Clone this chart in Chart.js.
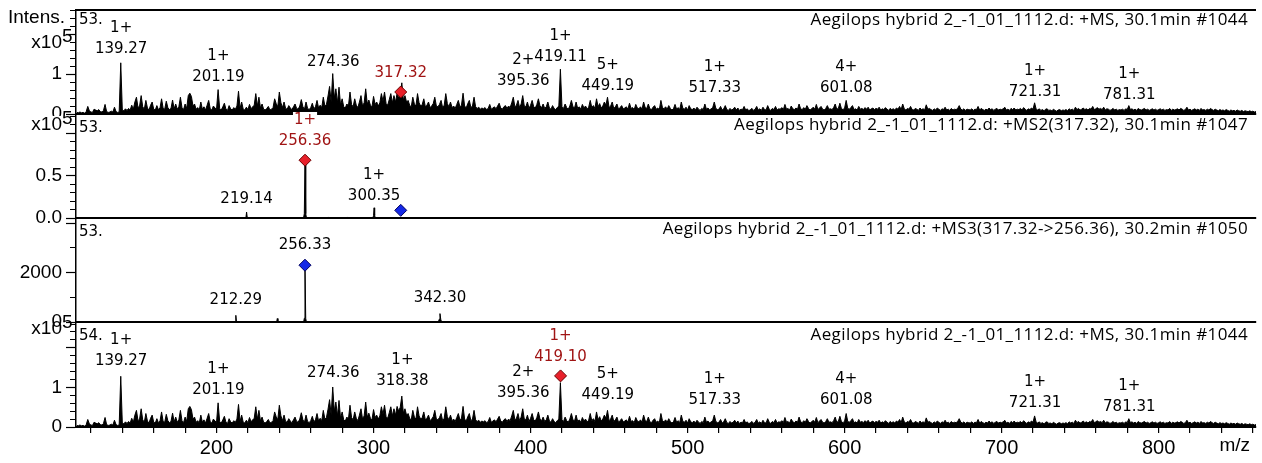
<!DOCTYPE html>
<html><head><meta charset="utf-8">
<script src="https://cdn.jsdelivr.net/npm/chart.js@4.4.1/dist/chart.umd.min.js"></script>
<style>
html,body{margin:0;padding:0;background:#fff;}
#wrap{position:relative;width:1262px;height:463px;overflow:hidden;background:#fff;}
canvas{position:absolute;left:0;}
</style></head><body>
<div id="wrap">
<canvas id="p1" width="1262" height="116" style="top:0px"></canvas>
<canvas id="p2" width="1262" height="130" style="top:100px"></canvas>
<canvas id="p3" width="1262" height="120" style="top:208px"></canvas>
<canvas id="p4" width="1262" height="155" style="top:308px"></canvas>
</div>
<script>
// ---------------- DATA ----------------
const mzMin = 110.5, mzMax = 862;
const tickLabelsX = [200, 300, 400, 500, 600, 700, 800];
const p3TickValues = [0, 1000, 2000, 3000, 4000];

// +MS full scan #1044 (intensity x10^5), one value per m/z starting at 111
const ms1Start = 111;
const ms1Int = [
0.04,0.03,0.05,0.03,0.04,0.02,0.06,0.19,0.08,0.05,
0.04,0.12,0.10,0.08,0.11,0.06,0.05,0.09,0.24,0.06,
0.04,0.05,0.07,0.05,0.17,0.06,0.04,0.05,1.28,0.10,
0.08,0.13,0.09,0.14,0.10,0.22,0.12,0.30,0.42,0.16,
0.20,0.46,0.18,0.12,0.34,0.15,0.10,0.22,0.30,0.12,
0.10,0.21,0.11,0.15,0.38,0.14,0.12,0.32,0.16,0.11,
0.14,0.35,0.13,0.25,0.12,0.18,0.42,0.16,0.11,0.25,
0.14,0.46,0.52,0.44,0.20,0.25,0.12,0.16,0.10,0.30,
0.12,0.18,0.10,0.22,0.34,0.13,0.10,0.20,0.15,0.12,
0.61,0.14,0.10,0.18,0.27,0.12,0.09,0.21,0.13,0.10,
0.16,0.12,0.20,0.57,0.14,0.30,0.12,0.10,0.17,0.11,
0.24,0.13,0.18,0.22,0.51,0.20,0.42,0.15,0.25,0.12,
0.10,0.14,0.19,0.10,0.12,0.16,0.38,0.26,0.18,0.55,
0.28,0.16,0.30,0.14,0.12,0.21,0.15,0.11,0.18,0.25,
0.14,0.12,0.20,0.36,0.18,0.12,0.30,0.14,0.11,0.16,
0.27,0.13,0.18,0.34,0.15,0.22,0.16,0.42,0.20,0.24,
0.45,0.69,0.30,1.01,0.40,0.63,0.28,0.67,0.22,0.38,
0.18,0.15,0.25,0.20,0.55,0.24,0.18,0.38,0.22,0.16,
0.30,0.46,0.20,0.28,0.63,0.25,0.35,0.22,0.18,0.44,
0.24,0.30,0.20,0.28,0.51,0.32,0.55,0.26,0.22,0.36,
0.51,0.28,0.46,0.30,0.52,0.40,0.50,0.78,0.35,0.46,
0.30,0.34,0.22,0.18,0.42,0.25,0.20,0.51,0.28,0.20,
0.24,0.38,0.18,0.22,0.30,0.16,0.20,0.26,0.42,0.20,
0.18,0.24,0.34,0.16,0.22,0.51,0.26,0.18,0.30,0.16,
0.20,0.14,0.24,0.34,0.18,0.22,0.52,0.20,0.15,0.26,
0.34,0.16,0.20,0.42,0.18,0.14,0.17,0.12,0.15,0.13,
0.16,0.11,0.14,0.24,0.12,0.15,0.18,0.13,0.20,0.27,
0.15,0.12,0.18,0.21,0.14,0.20,0.16,0.28,0.42,0.18,
0.22,0.34,0.16,0.25,0.46,0.20,0.18,0.30,0.14,0.22,
0.34,0.18,0.15,0.24,0.38,0.20,0.16,0.25,0.14,0.18,
0.30,0.15,0.12,0.21,0.14,0.11,0.16,0.20,1.12,0.18,
0.14,0.25,0.16,0.12,0.20,0.34,0.18,0.15,0.30,0.14,
0.18,0.12,0.24,0.15,0.20,0.13,0.17,0.34,0.16,0.21,
0.14,0.38,0.18,0.26,0.15,0.20,0.30,0.22,0.42,0.16,
0.20,0.30,0.14,0.18,0.25,0.12,0.16,0.21,0.13,0.15,
0.18,0.12,0.27,0.14,0.16,0.11,0.24,0.15,0.13,0.18,
0.12,0.30,0.16,0.14,0.25,0.13,0.11,0.17,0.21,0.12,
0.15,0.11,0.34,0.16,0.13,0.18,0.12,0.21,0.14,0.10,
0.13,0.24,0.12,0.16,0.11,0.30,0.14,0.12,0.17,0.10,
0.21,0.13,0.11,0.15,0.10,0.17,0.12,0.09,0.14,0.11,
0.25,0.12,0.15,0.10,0.13,0.16,0.30,0.14,0.11,0.12,
0.19,0.10,0.13,0.21,0.11,0.09,0.14,0.10,0.12,0.17,
0.10,0.15,0.09,0.12,0.11,0.19,0.10,0.13,0.08,0.11,
0.14,0.09,0.12,0.19,0.10,0.13,0.09,0.17,0.11,0.10,
0.21,0.12,0.09,0.14,0.11,0.19,0.10,0.13,0.12,0.16,
0.11,0.24,0.12,0.14,0.10,0.20,0.13,0.11,0.15,0.12,
0.25,0.13,0.11,0.16,0.12,0.21,0.14,0.10,0.13,0.17,
0.12,0.24,0.11,0.15,0.19,0.12,0.10,0.14,0.21,0.12,
0.13,0.11,0.16,0.25,0.12,0.14,0.27,0.13,0.11,0.15,
0.34,0.14,0.12,0.16,0.21,0.11,0.13,0.10,0.19,0.12,
0.14,0.11,0.16,0.12,0.17,0.10,0.13,0.15,0.11,0.14,
0.12,0.17,0.10,0.13,0.11,0.16,0.12,0.09,0.14,0.11,
0.13,0.10,0.15,0.12,0.19,0.11,0.25,0.13,0.10,0.14,
0.12,0.19,0.11,0.10,0.14,0.12,0.09,0.15,0.11,0.13,
0.10,0.23,0.12,0.14,0.11,0.09,0.13,0.10,0.15,0.12,
0.09,0.13,0.11,0.17,0.10,0.12,0.09,0.14,0.10,0.12,
0.11,0.14,0.21,0.12,0.10,0.13,0.09,0.12,0.11,0.10,
0.13,0.09,0.12,0.11,0.19,0.10,0.14,0.11,0.09,0.12,
0.10,0.15,0.11,0.13,0.09,0.12,0.14,0.10,0.12,0.11,
0.13,0.17,0.10,0.12,0.09,0.14,0.11,0.15,0.10,0.12,
0.11,0.14,0.10,0.16,0.12,0.09,0.13,0.11,0.15,0.12,
0.28,0.12,0.10,0.13,0.09,0.11,0.08,0.12,0.13,0.09,
0.10,0.08,0.12,0.09,0.07,0.10,0.11,0.08,0.10,0.09,
0.11,0.08,0.13,0.10,0.12,0.09,0.17,0.11,0.14,0.10,
0.12,0.15,0.11,0.13,0.10,0.14,0.12,0.19,0.11,0.13,
0.16,0.12,0.14,0.11,0.17,0.10,0.13,0.12,0.09,0.11,
0.14,0.10,0.12,0.09,0.11,0.10,0.12,0.09,0.13,0.11,
0.21,0.11,0.13,0.10,0.12,0.09,0.14,0.11,0.10,0.12,
0.14,0.10,0.12,0.09,0.11,0.13,0.10,0.12,0.09,0.11,
0.13,0.10,0.12,0.09,0.11,0.10,0.14,0.09,0.12,0.10,
0.11,0.13,0.10,0.14,0.12,0.09,0.11,0.17,0.10,0.12,
0.09,0.11,0.13,0.10,0.12,0.09,0.14,0.10,0.11,0.09,
0.12,0.10,0.14,0.11,0.09,0.12,0.10,0.08,0.11,0.09,
0.10,0.08,0.11,0.09,0.07,0.10,0.08,0.09,0.07,0.10,
0.08,0.07,0.09,0.06,0.08,0.07,0.06,0.08,0.06,0.07,
0.05,0.06
];

// +MS2(317.32) #1047 (x10^5)
const ms2Mz  = [110.5, 218.7, 219.14, 219.6, 255.4, 255.9, 256.36, 256.8, 257.3, 271.0, 271.4, 271.8, 283.0, 283.4, 283.8, 299.6, 300.0, 300.35, 300.7, 301.1, 862];
const ms2Int = [0,     0,     0.07,   0,     0,     0.05,  0.68,   0.05,  0,     0,     0.012, 0,     0,     0.012, 0,     0,     0.03,  0.12,   0.03,  0,     0];

// +MS3(317.32->256.36) #1050 (counts)
const ms3Mz  = [110.5, 211.9, 212.29, 212.7, 226.6, 227.0, 227.4, 238.3, 238.7, 239.1, 255.5, 255.9, 256.33, 256.8, 257.2, 311.6, 312.0, 312.4, 341.3, 341.8, 342.30, 342.8, 343.3, 862];
const ms3Int = [0,     0,     270,    0,     0,     40,    0,     0,     140,   0,     0,     150,   2300,   150,   0,     0,     30,    0,     0,     110,   340,    110,   0,     0];

// peak annotations
const p1LabMz     = [139.27, 201.19, 274.36, 317.32, 395.36, 419.11, 449.19, 517.33, 601.08, 721.31, 781.31];
const p1LabCharge = ['1+', '1+', '', '', '2+', '1+', '5+', '1+', '4+', '1+', '1+'];
const p1LabLevel  = [1.625, 0.925, 1.30, 1.025, 0.81, 1.42, 0.70, 0.65, 0.65, 0.55, 0.475];
const p1LabRed    = [false, false, false, true, false, false, false, false, false, false, false];

const p2LabMz     = [256.36, 219.14, 300.35];
const p2LabCharge = ['1+', '', '1+'];
const p2LabLevel  = [0.906, 0.224, 0.259];
const p2LabRed    = [true, false, false];

const p3LabMz     = [256.33, 212.29, 342.30];
const p3LabCharge = ['', '', ''];
const p3LabLevel  = [3118, 891, 972];
const p3LabRed    = [false, false, false];

const p4LabMz     = [139.27, 201.19, 274.36, 318.38, 395.36, 419.10, 449.19, 517.33, 601.08, 721.31, 781.31];
const p4LabCharge = ['1+', '1+', '', '1+', '2+', '1+', '5+', '1+', '4+', '1+', '1+'];
const p4LabLevel  = [1.67, 0.93, 1.36, 1.16, 0.85, 1.77, 0.81, 0.68, 0.68, 0.60, 0.51];
const p4LabRed    = [false, false, false, false, false, true, false, false, false, false, false];

// precursor markers
const p1MarkMz = [317.32], p1MarkInt = [0.55], p1MarkRed = [true];
const p2MarkMz = [256.36, 317.32], p2MarkInt = [0.68, 0.09], p2MarkRed = [true, false];
const p3MarkMz = [256.33], p3MarkInt = [2300], p3MarkRed = [false];
const p4MarkMz = [419.10], p4MarkInt = [1.29], p4MarkRed = [true];

const titles = [
  'Aegilops hybrid 2_-1_01_1112.d: +MS, 30.1min #1044',
  'Aegilops hybrid 2_-1_01_1112.d: +MS2(317.32), 30.1min #1047',
  'Aegilops hybrid 2_-1_01_1112.d: +MS3(317.32->256.36), 30.2min #1050',
  'Aegilops hybrid 2_-1_01_1112.d: +MS, 30.1min #1044'
];
const headers = ['53.', '53.', '53.', '54.'];

// ---------------- DRAWING ----------------
const RED_TXT = '#a01414';
const LABEL_FONT = '15px "DejaVu Sans"';
const TITLE_FONT = '17px "Open Sans"';
const AXIS_FAMILY = 'Liberation Sans';

const annot = {
  id: 'annot',
  afterDraw(chart, args, o) {
    const c = chart.ctx, a = chart.chartArea, xs = chart.scales.x, ys = chart.scales.y;
    c.save();
    if (o.topBorder) {
      c.strokeStyle = '#000'; c.lineWidth = 2;
      c.beginPath(); c.moveTo(a.left, a.top); c.lineTo(a.right, a.top); c.stroke();
    }
    c.textBaseline = 'middle';
    c.fillStyle = '#000';
    c.font = LABEL_FONT; c.textAlign = 'left';
    c.fillText(o.header, a.left + 3, a.top + o.headerDy);
    c.font = TITLE_FONT; c.textAlign = 'right';
    if ('letterSpacing' in c) c.letterSpacing = '0.4px';
    c.fillText(o.title, a.right - 8, a.top + o.titleDy);
    if ('letterSpacing' in c) c.letterSpacing = '0px';
    c.font = '19px "' + AXIS_FAMILY + '"';
    if (o.intens) { c.textAlign = 'left'; c.fillText('Intens.', 8, a.top + 8); }
    if (o.expDy !== undefined) {
      c.textAlign = 'right'; c.fillText('x10', a.left - 14, a.top + o.expDy);
      c.textAlign = 'left'; c.fillText('5', a.left - 14, a.top + o.expDy - 6);
    }
    c.font = LABEL_FONT; c.textAlign = 'center';
    o.lab.mz.forEach((mz, i) => {
      const x = xs.getPixelForValue(mz), y = ys.getPixelForValue(o.lab.level[i]);
      const col = o.lab.red[i] ? RED_TXT : '#000';
      c.fillStyle = col;
      c.fillText(mz.toFixed(2), x, y);
      const ch = o.lab.charge[i];
      if (ch) {
        if (o.lab.red[i] && o.chargeBg) {
          const w = c.measureText(ch).width;
          c.fillStyle = '#fff'; c.fillRect(x - w / 2 - 1, y - 21 - 8, w + 2, 16);
          c.fillStyle = col;
        }
        c.fillText(ch, x, y - 21);
      }
    });
    if (o.mzLabel) {
      c.fillStyle = '#000'; c.font = '19px "' + AXIS_FAMILY + '"'; c.textAlign = 'right';
      c.fillText('m/z', a.right - 6, a.bottom + 19);
    }
    c.restore();
  }
};

function near(v, list) { return list.some(t => Math.abs(v - t) < 1e-6 * Math.max(1, Math.abs(t))); }
function noPad(s) { s.paddingTop = 0; s.paddingBottom = 0; s.paddingLeft = 0; s.paddingRight = 0; }

function panel(id, o) {
  const datasets = [];
  o.markMz.forEach((mz, i) => datasets.push({
    data: [{x: mz, y: o.markInt[i]}], showLine: false, pointStyle: 'rectRot',
    pointRadius: 6, pointHoverRadius: 6, pointBorderWidth: 1,
    pointBackgroundColor: o.markRed[i] ? '#e8202a' : '#1428e6',
    pointBorderColor: o.markRed[i] ? '#6a0000' : '#000060', clip: false
  }));
  datasets.push({
    data: o.specX.map((x, i) => ({x: x, y: o.specY[i]})),
    borderColor: '#000', backgroundColor: '#000', borderWidth: 1,
    pointRadius: 0, fill: 'origin', tension: 0
  });
  const yScale = {
    type: 'linear', min: 0, max: o.yMax,
    afterFit: s => { s.width = 76; noPad(s); },
    border: {display: true, color: '#000', width: 1.5},
    grid: {
      drawOnChartArea: false, drawTicks: true, tickLength: 10, color: '#000', tickColor: '#000', tickWidth: 1.2,
      tickBorderDash: c => (c.tick && !near(c.tick.value / o.yMajor, [Math.round(c.tick.value / o.yMajor)])) ? [0, 4, 100, 0] : []
    },
    ticks: {
      stepSize: o.yStep, includeBounds: false, autoSkip: false, padding: 4,
      color: '#000', font: {family: AXIS_FAMILY, size: 19},
      callback: v => near(v, o.yLabels) ? o.yFmt(v) : ''
    }
  };
  if (o.yTicks) yScale.afterBuildTicks = s => { s.ticks = o.yTicks.map(v => ({value: v})); };
  return new Chart(document.getElementById(id), {
    type: 'line',
    data: {datasets},
    plugins: [annot],
    options: {
      responsive: false, animation: false, events: [], devicePixelRatio: 1,
      layout: {autoPadding: false, padding: {top: o.padTop, right: 6, left: 0, bottom: 0}},
      plugins: {
        legend: {display: false}, tooltip: {enabled: false},
        annot: {
          topBorder: o.topBorder, header: o.header, headerDy: o.headerDy, title: o.title, titleDy: o.titleDy,
          intens: o.intens, expDy: o.expDy, mzLabel: o.xTicks, chargeBg: o.chargeBg, lab: o.lab
        }
      },
      scales: {
        x: {
          type: 'linear', min: mzMin, max: mzMax,
          afterFit: s => { s.height = o.xHeight; noPad(s); },
          border: {display: true, color: '#000', width: 2},
          grid: {display: o.xTicks, drawOnChartArea: false, drawTicks: o.xTicks, tickLength: 6, color: '#000', lineWidth: 1.2},
          ticks: {
            display: o.xTicks, stepSize: 20, autoSkip: false, maxRotation: 0, includeBounds: false, padding: 3,
            color: '#000', font: {family: AXIS_FAMILY, size: 20},
            callback: v => near(v, tickLabelsX) ? String(Math.round(v)) : ''
          }
        },
        y: yScale
      }
    }
  });
}

const ms1X = ms1Int.map((_, i) => ms1Start + i);

panel('p1', {
  specX: ms1X, specY: ms1Int, markMz: p1MarkMz, markInt: p1MarkInt, markRed: p1MarkRed,
  padTop: 10, xHeight: 2, xTicks: false, topBorder: true,
  yMax: 2.6, yStep: 0.2, yMajor: 1, yLabels: [0, 1], yFmt: v => String(Math.round(v)),
  header: headers[0], headerDy: 10, title: titles[0], titleDy: 10, intens: true, expDy: 33,
  lab: {mz: p1LabMz, charge: p1LabCharge, level: p1LabLevel, red: p1LabRed}
});
panel('p2', {
  specX: ms2Mz, specY: ms2Int, markMz: p2MarkMz, markInt: p2MarkInt, markRed: p2MarkRed,
  padTop: 16, xHeight: 12, xTicks: false, topBorder: false, chargeBg: true,
  yMax: 1.2, yStep: 0.1, yMajor: 0.5, yLabels: [0, 0.5], yFmt: v => v.toFixed(1),
  header: headers[1], headerDy: 12, title: titles[1], titleDy: 9, intens: false, expDy: 9,
  lab: {mz: p2LabMz, charge: p2LabCharge, level: p2LabLevel, red: p2LabRed}
});
panel('p3', {
  specX: ms3Mz, specY: ms3Int, markMz: p3MarkMz, markInt: p3MarkInt, markRed: p3MarkRed,
  padTop: 12, xHeight: 6, xTicks: false, topBorder: false, yTicks: p3TickValues,
  yMax: 4130, yStep: 1000, yMajor: 2000, yLabels: [0, 2000], yFmt: v => String(Math.round(v)),
  header: headers[2], headerDy: 12, title: titles[2], titleDy: 9, intens: false,
  lab: {mz: p3LabMz, charge: p3LabCharge, level: p3LabLevel, red: p3LabRed}
});
panel('p4', {
  specX: ms1X, specY: ms1Int, markMz: p4MarkMz, markInt: p4MarkInt, markRed: p4MarkRed,
  padTop: 16, xHeight: 36, xTicks: true, topBorder: false,
  yMax: 2.6, yStep: 0.2, yMajor: 1, yLabels: [0, 1], yFmt: v => String(Math.round(v)),
  header: headers[3], headerDy: 12, title: titles[3], titleDy: 11, intens: false, expDy: 5,
  lab: {mz: p4LabMz, charge: p4LabCharge, level: p4LabLevel, red: p4LabRed}
});
</script>
</body></html>
